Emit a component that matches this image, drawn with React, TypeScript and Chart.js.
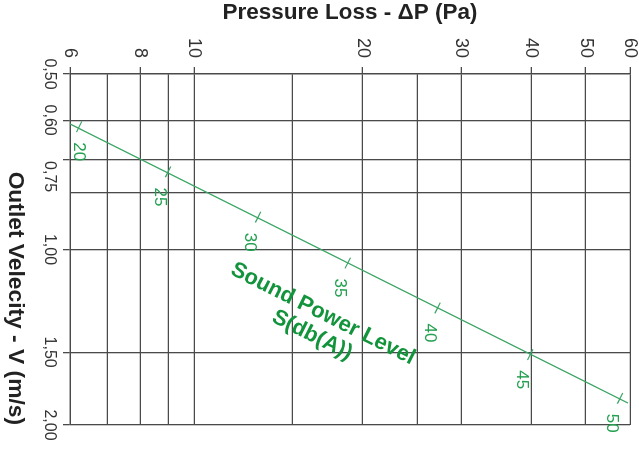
import React, { useEffect, useRef } from "react";
import { Chart, registerables } from "chart.js";

Chart.register(...registerables);

// Pressure loss axis (Pa), logarithmic
const pressureGrid = [6, 7, 8, 9, 10, 15, 20, 25, 30, 40, 50, 60];
const pressureLabeled = [6, 8, 10, 20, 30, 40, 50, 60];

// Outlet velocity axis (m/s), logarithmic
const velocityGrid = [0.5, 0.6, 0.7, 0.8, 1, 1.5, 2];
const velocityLabeled = [0.5, 0.6, 0.75, 1, 1.5, 2];
const velocityTicked = [0.5, 0.6, 0.7, 1, 1.5, 2];

// Sound power level marks along the curve
const soundLevels = [20, 25, 30, 35, 40, 45, 50];
const soundVelocity = [0.616, 0.736, 0.88, 1.055, 1.26, 1.515, 1.8];
const soundPressure = [6.23, 8.98, 13.0, 18.8, 27.2, 39.8, 57.6];

// Curve end points
const lineVelocity = [0.609, 1.834];
const linePressure = [6, 59.5];

const curveTitle = ["Sound Power Level", "S(db(A))"];
const curveTitleVelocity = 1.345;
const curveTitlePressure = 16.6;

const FONT = "'Liberation Sans', Arial, Helvetica, sans-serif";
const GRID = "#4a4a4a";
const NONE = "rgba(0,0,0,0)";
const LINE_GREEN = "#3aa564";
const LABEL_GREEN = "#23a050";
const TITLE_GREEN = "#13943c";

const velocityTicks = Array.from(new Set([...velocityGrid, ...velocityLabeled])).sort((a, b) => a - b);

const soundPlugin = {
  id: "soundLabels",
  afterDatasetsDraw(chart: any) {
    const ctx = chart.ctx;
    const meta = chart.getDatasetMeta(1);
    const area = chart.chartArea;
    ctx.save();
    ctx.fillStyle = LABEL_GREEN;
    ctx.font = `17px ${FONT}`;
    ctx.textAlign = "center";
    ctx.textBaseline = "middle";
    meta.data.forEach((pt: any, i: number) => {
      const y = Math.min(pt.y + 8, area.bottom - 9);
      ctx.fillText(String(soundLevels[i]), pt.x + 25, y);
    });
    const cx = chart.scales.x.getPixelForValue(curveTitleVelocity);
    const cy = chart.scales.y.getPixelForValue(curveTitlePressure);
    ctx.translate(cx, cy);
    ctx.rotate(-Math.atan2(2, 1));
    ctx.font = `bold 22px ${FONT}`;
    ctx.fillStyle = TITLE_GREEN;
    ctx.fillText(curveTitle[0], 0, -12);
    ctx.fillText(curveTitle[1], 0, 12);
    ctx.restore();
  },
};

export default function App() {
  const canvasRef = useRef<HTMLCanvasElement | null>(null);

  useEffect(() => {
    if (!canvasRef.current) return;
    const chart = new Chart(canvasRef.current, {
      type: "scatter",
      data: {
        datasets: [
          {
            data: lineVelocity.map((v, i) => ({ x: v, y: linePressure[i] })),
            showLine: true,
            borderColor: LINE_GREEN,
            borderWidth: 1.3,
            pointRadius: 0,
          },
          {
            data: soundVelocity.map((v, i) => ({ x: v, y: soundPressure[i] })),
            showLine: false,
            pointStyle: "line",
            pointRotation: 26.57,
            pointRadius: 6,
            borderColor: LINE_GREEN,
            pointBorderColor: LINE_GREEN,
            pointBorderWidth: 1.2,
          },
        ],
      },
      options: {
        animation: false,
        responsive: false,
        events: [],
        layout: { padding: { top: 9, right: 25, left: 0, bottom: 0 } },
        plugins: { legend: { display: false }, tooltip: { enabled: false } },
        scales: {
          x: {
            type: "logarithmic",
            position: "bottom",
            min: 0.5,
            max: 2,
            afterBuildTicks: (s: any) => {
              s.ticks = velocityTicks.map((v) => ({ value: v }));
            },
            afterFit: (s: any) => {
              s.height = 70;
              s.paddingLeft = 0;
              s.paddingRight = 0;
            },
            ticks: {
              autoSkip: false,
              minRotation: 0,
              maxRotation: 0,
              padding: 4,
              color: "#333",
              font: { size: 16, family: FONT },
              callback: (value: any) =>
                velocityLabeled.includes(Number(value)) ? Number(value).toFixed(2).replace(".", ",") : "",
            },
            grid: {
              color: (c: any) => (c.tick && velocityGrid.includes(c.tick.value) ? GRID : NONE),
              tickColor: (c: any) => (c.tick && velocityTicked.includes(c.tick.value) ? GRID : NONE),
              lineWidth: 1.3,
              tickLength: 7,
            },
            border: { display: true, color: GRID, width: 1.3 },
            title: {
              display: true,
              text: "Outlet Velecity - V (m/s)",
              align: "end",
              color: "#222",
              font: { size: 22.8, weight: "bold", family: FONT, lineHeight: 1 },
              padding: { top: 0, bottom: 4 },
            },
          },
          y: {
            type: "logarithmic",
            position: "left",
            min: 6,
            max: 60,
            afterBuildTicks: (s: any) => {
              s.ticks = pressureGrid.map((v) => ({ value: v }));
            },
            afterFit: (s: any) => {
              s.width = 74;
              s.paddingTop = 0;
              s.paddingBottom = 0;
            },
            ticks: {
              autoSkip: false,
              padding: 9,
              color: "#333",
              font: { size: 18, family: FONT, lineHeight: 1 },
              callback: (value: any) => (pressureLabeled.includes(Number(value)) ? String(value) : ""),
            },
            grid: {
              color: GRID,
              tickColor: (c: any) => (c.tick && pressureLabeled.includes(c.tick.value) ? GRID : NONE),
              lineWidth: 1.3,
              tickLength: 7,
            },
            border: { display: true, color: GRID, width: 1.3 },
            title: {
              display: true,
              text: "Pressure Loss - ΔP (Pa)",
              color: "#222",
              font: { size: 22.5, weight: "bold", family: FONT, lineHeight: 1 },
              padding: { top: 2, bottom: 0 },
            },
          },
        },
      } as any,
      plugins: [soundPlugin],
    });
    return () => chart.destroy();
  }, []);

  return (
    <div
      style={{
        position: "fixed",
        left: 0,
        top: 0,
        width: 639,
        height: 450,
        overflow: "hidden",
        background: "#fff",
      }}
    >
      <div
        style={{
          position: "absolute",
          left: 0,
          top: 0,
          width: 450,
          height: 639,
          transformOrigin: "0 0",
          transform: "translateX(639px) rotate(90deg)",
        }}
      >
        <canvas ref={canvasRef} width={450} height={639} />
      </div>
    </div>
  );
}
